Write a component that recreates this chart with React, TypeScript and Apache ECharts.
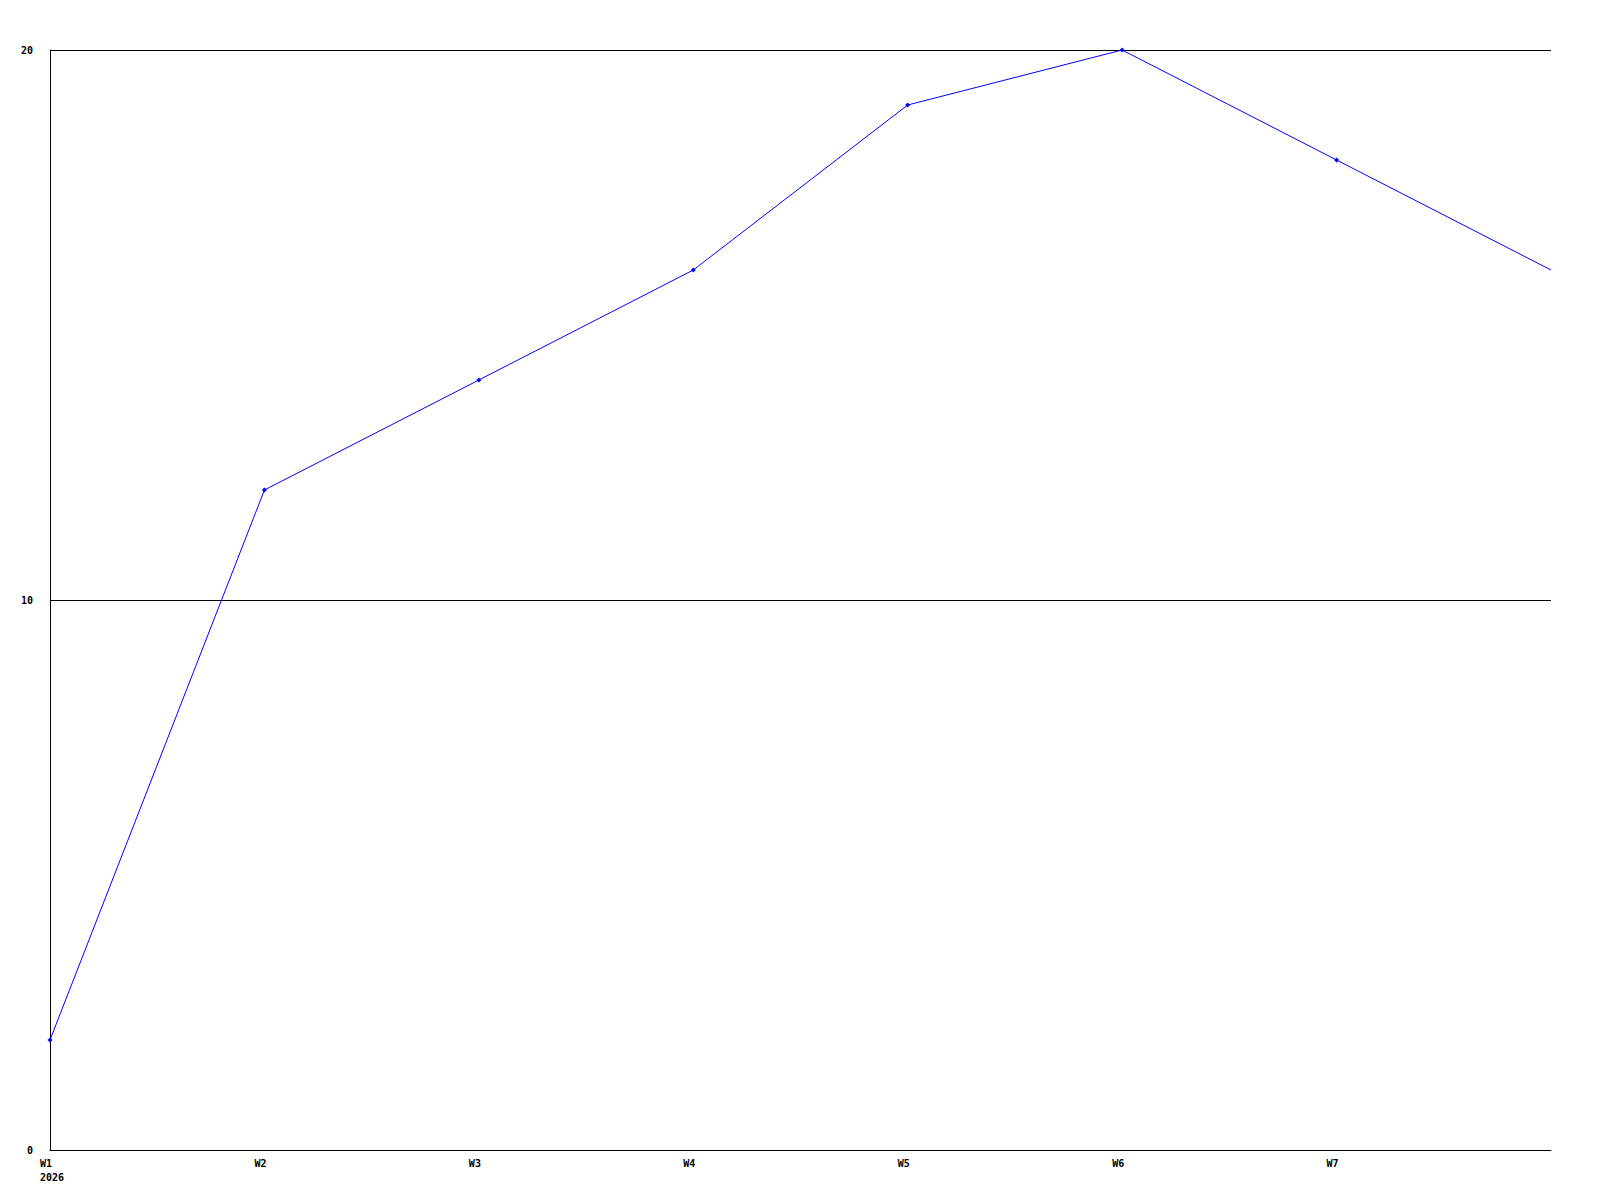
import React, { useEffect, useRef } from "react";
import * as echarts from "echarts";

const categories = ["W1", "W2", "W3", "W4", "W5", "W6", "W7", "W8"];
const yearLabel = "2026";
const values = [2, 12, 14, 16, 19, 20, 18, 16];
const yTicks = [0, 10, 20];

export default function App() {
  const ref = useRef<HTMLDivElement>(null);
  useEffect(() => {
    if (!ref.current) return;
    const chart = echarts.init(ref.current, null, { renderer: "svg" });
    const font = { fontFamily: "DejaVu Sans Mono", fontWeight: "bold" as const, fontSize: 10, color: "#000" };
    const seriesData = values.map((v, i) =>
      i === values.length - 1 ? { value: v, symbol: "none" } : { value: v }
    );
    chart.setOption({
      animation: false,
      backgroundColor: "#fff",
      grid: { left: 50, top: 50, right: 49, bottom: 50, containLabel: false },
      xAxis: {
        type: "category",
        data: categories,
        boundaryGap: false,
        axisLine: { show: true, lineStyle: { color: "#000", width: 1 } },
        axisTick: { show: false },
        splitLine: { show: false },
        axisLabel: {
          ...font,
          margin: 6,
          interval: 0,
          align: "center",
          lineHeight: 14,
          formatter: (v: string, i: number) => {
            if (i === categories.length - 1) return "";
            return i === 0 ? `{a|${v}}\n{a|${yearLabel}}` : `{a|${v}}`;
          },
          rich: { a: { ...font, width: 20, align: "left", lineHeight: 14 } },
        },
      },
      yAxis: {
        type: "value",
        min: yTicks[0],
        max: yTicks[yTicks.length - 1],
        interval: 10,
        axisLine: { show: true, lineStyle: { color: "#000", width: 1 } },
        axisTick: { show: false },
        splitLine: { show: true, lineStyle: { color: "#000", width: 1 } },
        axisLabel: { ...font, margin: 17 },
      },
      series: [
        {
          type: "line",
          data: seriesData,
          symbol: "diamond",
          symbolSize: 5,
          showSymbol: true,
          lineStyle: { color: "#0000ff", width: 1 },
          itemStyle: { color: "#0000ff" },
        },
      ],
    });
    return () => chart.dispose();
  }, []);
  return (
    <div
      ref={ref}
      style={{ position: "fixed", left: 0, top: 0, width: 1600, height: 1200, background: "#fff" }}
    />
  );
}
